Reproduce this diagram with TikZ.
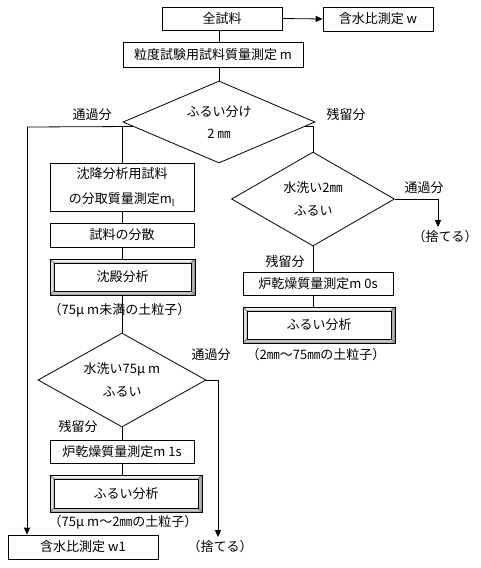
\documentclass[tikz,border=0pt]{standalone}
\usepackage{fontspec}
\setmainfont{Noto Sans CJK JP}
\usetikzlibrary{shapes.geometric,arrows.meta,calc}

\tikzset{
	box/.style={draw, rectangle, inner sep=0pt, align=center},
	dia/.style={draw, diamond, inner sep=0pt, align=center},
	bevel/.style={box, path picture={
		\coordinate (bsw) at (path picture bounding box.south west);
		\coordinate (bne) at (path picture bounding box.north east);
		\coordinate (isw) at ($(bsw)+(4pt,4pt)$);
		\coordinate (ine) at ($(bne)+(-4pt,-4pt)$);
		\filldraw[gray!12, draw=gray] (bsw |- bne) -- (bne) -- (ine) -- (isw |- ine) -- cycle;
		\filldraw[gray!22, draw=gray] (bsw) -- (bsw |- bne) -- (isw |- ine) -- (isw) -- cycle;
		\filldraw[gray!45, draw=gray] (bsw) -- (bsw -| bne) -- (ine |- isw) -- (isw) -- cycle;
		\filldraw[gray!62, draw=gray] (bsw -| bne) -- (bne) -- (ine) -- (ine |- isw) -- cycle;
		\draw[black, fill=white] (isw) rectangle (ine);
	}},
}

\begin{document}
\begin{tikzpicture}[x=1pt, y=-1pt, line width=0.8pt, font=\fontsize{13}{15.6}\selectfont, >={Triangle[length=7pt,width=6pt]}]
	\useasboundingbox (0,0) rectangle (480,568);
	\begin{scope}
		\node[box, minimum width=120pt, minimum height=23pt] (all) at (222,18.5) {全試料};
		\node[box, minimum width=110pt, minimum height=24pt] (wc) at (378,19) {含水比測定 w};
		\node[box, minimum width=180pt, minimum height=25pt] (mass) at (213,54.5) {粒度試験用試料質量測定 m};
		\node[dia, aspect=2.34, minimum width=192pt, minimum height=82pt] (sieve1) at (219,122) {ふるい分け\\[7pt]2 ㎜};
		\draw[->] (all.east) -- (wc.west);
		\draw (all.south -| sieve1.north) -- (mass.north -| sieve1.north);
		\draw (mass.south -| sieve1.north) -- (sieve1.north);
		\node (pass1) at (92,115) {通過分};
		\node (stay1) at (346,115) {残留分};
	\end{scope}
	\begin{scope}
		\node[box, minimum width=144pt, minimum height=48pt] (sedi) at (122,187) {沈降分析用試料\\[9pt]の分取質量測定m\textsubscript{l}};
		\node[box, minimum width=144pt, minimum height=24pt] (disp) at (122,235) {試料の分散};
		\node[bevel, minimum width=145pt, minimum height=36pt] (sedan) at (122.5,277) {沈殿分析};
		\node[anchor=west] (fine) at (45,310) {（75μ m未満の土粒子）};
		\node[dia, aspect=1.79, minimum width=168pt, minimum height=94pt] (wash2) at (122,380) {水洗い75μ m\\[7pt]ふるい};
		\node (pass3) at (211,355) {通過分};
		\node (stay3) at (78,427) {残留分};
		\node[box, minimum width=144pt, minimum height=23pt] (dry1) at (122,451.5) {炉乾燥質量測定m 1s};
		\node[bevel, minimum width=152pt, minimum height=37pt] (sieve2) at (126,493.5) {ふるい分析};
		\node[anchor=west] (mid) at (45,522) {（75μ m～2㎜の土粒子）};
		\node[box, minimum width=150pt, minimum height=24pt] (wc1) at (83,547) {含水比測定 w1};
		\node (disc2) at (220,547) {（捨てる）};
		\coordinate (bus) at (27,127);
		\draw (sieve1.183) -- (bus);
		\draw[->] (bus) -- (bus |- wc1.north);
		\draw (sieve1.183 -| sedi.north) -- (sedi.north);
		\draw (sedi.south) -- (disp.north);
		\draw (disp.south) -- (disp.south |- sedan.north);
		\draw (wash2.north |- sedan.south) -- (wash2.north);
		\draw (wash2.south) -- (dry1.north);
		\draw (dry1.south) -- (dry1.south |- sieve2.north);
		\draw[->] (wash2.east) -| ([xshift=-2pt]disc2.north);
	\end{scope}
	\begin{scope}
		\node[dia, aspect=1.73, minimum width=163pt, minimum height=94pt] (wash1) at (313,199) {水洗い2㎜\\[7pt]ふるい};
		\node (pass2) at (424,188) {通過分};
		\node (disc1) at (445,237) {（捨てる）};
		\node (stay2) at (285,262) {残留分};
		\node[box, minimum width=150pt, minimum height=23pt] (dry0) at (318,283.5) {炉乾燥質量測定m 0s};
		\node[bevel, minimum width=152pt, minimum height=36pt] (sieve3) at (319,325) {ふるい分析};
		\node (coarse) at (316,355) {（2㎜～75㎜の土粒子）};
		\draw (sieve1.357) -| (wash1.north);
		\draw[->] (wash1.east) -| ([xshift=-7pt]disc1.north);
		\draw (wash1.south) -- (wash1.south |- dry0.north);
		\draw (wash1.south |- dry0.south) -- (wash1.south |- sieve3.north);
	\end{scope}
\end{tikzpicture}
\end{document}
